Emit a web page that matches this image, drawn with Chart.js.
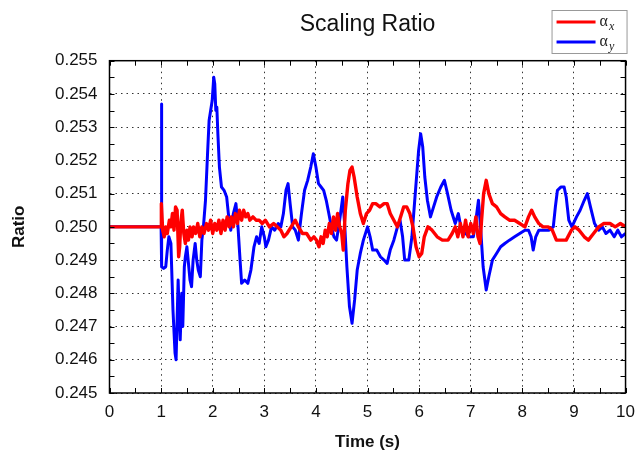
<!DOCTYPE html>
<html>
<head>
<meta charset="utf-8">
<title>Scaling Ratio</title>
<script src="https://cdn.jsdelivr.net/npm/chart.js@4.4.1/dist/chart.umd.min.js"></script>
<style>
  html, body { margin: 0; padding: 0; background: #fff; }
  #wrap { width: 644px; height: 460px; }
</style>
</head>
<body>
<div id="wrap"><canvas id="ratio-chart"></canvas></div>
<script>
// axis ticks
const xTicks = [0, 1, 2, 3, 4, 5, 6, 7, 8, 9, 10];
const yTicks = [0.245, 0.246, 0.247, 0.248, 0.249, 0.250, 0.251, 0.252, 0.253, 0.254, 0.255];

// legend: alpha with subscript
const legendSubs = ['x', 'y'];

// alpha_x (red)
const timeX = [
  0, 1.0, 1.005, 1.03, 1.06, 1.09, 1.12, 1.16, 1.19, 1.22, 1.25, 1.28, 1.31, 1.34, 1.36, 1.38,
  1.41, 1.44, 1.47, 1.50, 1.53, 1.56, 1.60, 1.63, 1.67, 1.71, 1.75, 1.79, 1.83, 1.88, 1.92, 1.96,
  2.00, 2.04, 2.08, 2.12, 2.16, 2.20, 2.24, 2.28, 2.32, 2.36, 2.40, 2.44, 2.48, 2.52, 2.56, 2.60,
  2.64, 2.68, 2.72, 2.78, 2.84, 2.90, 2.96, 3.02, 3.10, 3.18, 3.25, 3.32, 3.38, 3.44, 3.52, 3.60,
  3.66, 3.74, 3.82, 3.90, 3.96, 4.01, 4.06, 4.10, 4.14, 4.18, 4.22, 4.26, 4.30, 4.34, 4.38, 4.42,
  4.46, 4.50, 4.53, 4.57, 4.62, 4.66, 4.70, 4.74, 4.80, 4.86, 4.92, 4.98, 5.04, 5.10, 5.16, 5.24,
  5.32, 5.38, 5.44, 5.51, 5.58, 5.64, 5.70, 5.76, 5.82, 5.88, 5.94, 6.00, 6.05, 6.10, 6.17, 6.25,
  6.35, 6.45, 6.56, 6.64, 6.70, 6.75, 6.80, 6.85, 6.90, 6.95, 7.00, 7.05, 7.10, 7.14, 7.18, 7.21,
  7.25, 7.30, 7.35, 7.42, 7.50, 7.58, 7.66, 7.75, 7.85, 7.95, 8.05, 8.12, 8.18, 8.24, 8.32, 8.40,
  8.50, 8.58, 8.66, 8.75, 8.85, 8.95, 9.02, 9.10, 9.20, 9.28, 9.38, 9.48, 9.58, 9.70, 9.80, 9.90, 10.0
];
const alphaX = [
  0.2500, 0.2500, 0.2507, 0.2499, 0.2497, 0.2500, 0.2498, 0.2502, 0.2500, 0.2504, 0.2499, 0.2506, 0.2505, 0.2491, 0.2494, 0.2501,
  0.2505, 0.2498, 0.2495, 0.2499, 0.2496, 0.2500, 0.2497, 0.2500, 0.2498, 0.2501, 0.2497, 0.2500, 0.2498, 0.2501, 0.2499, 0.2502,
  0.2498, 0.2501, 0.2499, 0.2502, 0.2498, 0.2502, 0.2499, 0.2503, 0.2500, 0.2503, 0.2500, 0.2504, 0.2501, 0.2505, 0.2502, 0.2505,
  0.2503, 0.2504, 0.2502, 0.2503, 0.2502, 0.2502, 0.2501, 0.2502, 0.2500, 0.2501, 0.2500, 0.2499, 0.2497, 0.2498, 0.2500, 0.2502,
  0.2500, 0.2498, 0.2498, 0.2496, 0.2497, 0.2496, 0.2494, 0.2497, 0.2495, 0.2499, 0.2497, 0.2501, 0.2498, 0.2503, 0.2499, 0.2504,
  0.2500, 0.2498, 0.2493, 0.2505, 0.2513, 0.2517, 0.2518, 0.2515, 0.2509, 0.2504, 0.2501, 0.2504, 0.2505, 0.2507, 0.2507, 0.2506,
  0.2507, 0.2507, 0.2504, 0.2502, 0.2500, 0.2503, 0.2506, 0.2506, 0.2504, 0.2500, 0.2494, 0.2491, 0.2492, 0.2497, 0.2500, 0.2499,
  0.2497, 0.2496, 0.2496, 0.2498, 0.2500, 0.2497, 0.2501, 0.2497, 0.2502, 0.2497, 0.2501, 0.2498, 0.2503, 0.2497, 0.2495, 0.2502,
  0.2510, 0.2514, 0.2510, 0.2507, 0.2506, 0.2504, 0.2503, 0.2502, 0.2502, 0.2501, 0.2500, 0.2503, 0.2505, 0.2503, 0.2501, 0.2500,
  0.2500, 0.2499, 0.2496, 0.2496, 0.2496, 0.2499, 0.2500, 0.2499, 0.2497, 0.2496, 0.2498, 0.2500, 0.2501, 0.2501, 0.2500, 0.2501, 0.2500
];

// alpha_y (blue)
const timeY = [
  0, 1.0, 1.005, 1.015, 1.05, 1.09, 1.12, 1.15, 1.19, 1.23, 1.27, 1.29, 1.31, 1.33, 1.35, 1.37,
  1.40, 1.42, 1.45, 1.47, 1.50, 1.53, 1.56, 1.59, 1.62, 1.66, 1.69, 1.72, 1.76, 1.79, 1.82, 1.86,
  1.90, 1.93, 1.96, 1.99, 2.02, 2.04, 2.06, 2.08, 2.10, 2.13, 2.17, 2.22, 2.27, 2.31, 2.35, 2.40,
  2.45, 2.49, 2.53, 2.56, 2.62, 2.68, 2.74, 2.80, 2.85, 2.90, 2.95, 3.00, 3.03, 3.08, 3.14, 3.20,
  3.27, 3.32, 3.37, 3.42, 3.46, 3.50, 3.55, 3.60, 3.66, 3.72, 3.78, 3.84, 3.90, 3.95, 4.00, 4.05,
  4.10, 4.15, 4.20, 4.25, 4.30, 4.35, 4.40, 4.46, 4.52, 4.56, 4.60, 4.65, 4.70, 4.75, 4.80, 4.86,
  4.92, 5.00, 5.05, 5.10, 5.18, 5.25, 5.32, 5.38, 5.44, 5.51, 5.58, 5.63, 5.68, 5.72, 5.80, 5.86,
  5.91, 5.95, 5.99, 6.03, 6.07, 6.11, 6.16, 6.22, 6.28, 6.34, 6.42, 6.49, 6.55, 6.62, 6.70, 6.76,
  6.82, 6.90, 6.97, 7.05, 7.10, 7.15, 7.19, 7.24, 7.30, 7.35, 7.42, 7.50, 7.58, 7.66, 7.75, 7.85,
  7.95, 8.05, 8.12, 8.17, 8.21, 8.26, 8.32, 8.42, 8.52, 8.60, 8.64, 8.68, 8.75, 8.81, 8.85, 8.90,
  8.96, 9.05, 9.12, 9.20, 9.26, 9.32, 9.40, 9.48, 9.55, 9.62, 9.70, 9.78, 9.85, 9.92, 10.0
];
const alphaY = [
  0.2500, 0.2500, 0.2537, 0.2488, 0.24875, 0.2488, 0.2493, 0.2497, 0.2495, 0.2475, 0.2462, 0.2460, 0.2472, 0.2484, 0.2474, 0.2466,
  0.2480, 0.2470, 0.2488, 0.2491, 0.2494, 0.2489, 0.2484, 0.2482, 0.2490, 0.2495, 0.2490, 0.2487, 0.2485, 0.2496, 0.2500, 0.2508,
  0.2522, 0.2532, 0.2535, 0.2538, 0.2545, 0.2543, 0.2535, 0.2536, 0.2528, 0.2518, 0.2512, 0.2511, 0.2509, 0.2503, 0.2499, 0.2504,
  0.2507, 0.2500, 0.2490, 0.2483, 0.2484, 0.2483, 0.2487, 0.2494, 0.2497, 0.2495, 0.2500, 0.2497, 0.2494, 0.2496, 0.2500, 0.2499,
  0.2501, 0.2500, 0.2504, 0.2511, 0.2513, 0.2507, 0.2500, 0.2499, 0.2496, 0.2504, 0.2511, 0.2514, 0.2518, 0.2522, 0.2518, 0.2513,
  0.2512, 0.2511, 0.2508, 0.2504, 0.2500, 0.2497, 0.2496, 0.2502, 0.2509, 0.2500, 0.2488, 0.2476, 0.2471, 0.2478, 0.2487, 0.2492,
  0.2496, 0.2500, 0.2497, 0.2493, 0.2493, 0.2491, 0.2490, 0.2489, 0.2493, 0.2496, 0.2500, 0.2502, 0.2497, 0.2490, 0.2490, 0.2497,
  0.2507, 0.2515, 0.2523, 0.2528, 0.2524, 0.2515, 0.2508, 0.2503, 0.2506, 0.2509, 0.2512, 0.2514, 0.2510, 0.2505, 0.2501, 0.2504,
  0.2499, 0.2498, 0.2497, 0.2497, 0.2502, 0.2508, 0.2500, 0.2488, 0.2481, 0.2485, 0.2490, 0.2492, 0.2494, 0.2495, 0.2496, 0.2497,
  0.2498, 0.2499, 0.2499, 0.2497, 0.2493, 0.2497, 0.2499, 0.2499, 0.2499, 0.2500, 0.2506, 0.2511, 0.2512, 0.2512, 0.2509, 0.2502,
  0.2500, 0.2503, 0.2505, 0.2508, 0.2510, 0.2506, 0.2501, 0.2499, 0.2500, 0.2498, 0.2499, 0.2497, 0.2499, 0.2497, 0.2498
];

const FONT = 'Liberation Sans, Arial, Helvetica, sans-serif';

// frame around the plot plus inward major/minor tick marks on all four sides
const frameTicks = {
  id: 'frameTicks',
  afterDraw(chart) {
    const { ctx, chartArea: a, scales: { x, y } } = chart;
    const len = 5;
    const withMinor = (vals) => {
      const out = [];
      vals.forEach((v, i) => {
        out.push(v);
        if (i < vals.length - 1) out.push((v + vals[i + 1]) / 2);
      });
      return out;
    };
    ctx.save();
    ctx.strokeStyle = '#000';
    ctx.lineWidth = 1;
    ctx.beginPath();
    withMinor(xTicks).forEach(v => {
      const px = Math.round(x.getPixelForValue(v)) + 0.5;
      ctx.moveTo(px, a.bottom); ctx.lineTo(px, a.bottom - len);
      ctx.moveTo(px, a.top); ctx.lineTo(px, a.top + len);
    });
    withMinor(yTicks).forEach(v => {
      const py = Math.round(y.getPixelForValue(v)) + 0.5;
      ctx.moveTo(a.left, py); ctx.lineTo(a.left + len, py);
      ctx.moveTo(a.right, py); ctx.lineTo(a.right - len, py);
    });
    ctx.stroke();
    ctx.lineWidth = 1.5;
    ctx.strokeRect(a.left, a.top, a.right - a.left, a.bottom - a.top);
    ctx.restore();
  }
};

// boxed legend with alpha and italic subscript
const alphaLegend = {
  id: 'alphaLegend',
  afterDraw(chart) {
    const ctx = chart.ctx;
    const right = chart.chartArea.right + 1;
    const bx = right - 75, by = 10, bw = 75, bh = 43;
    ctx.save();
    ctx.fillStyle = '#fff';
    ctx.fillRect(bx, by, bw, bh);
    ctx.strokeStyle = '#999';
    ctx.lineWidth = 1;
    ctx.strokeRect(bx + 0.5, by + 0.5, bw, bh);
    chart.data.datasets.forEach((ds, i) => {
      const ly = by + 12 + i * 20;
      ctx.strokeStyle = ds.borderColor;
      ctx.lineWidth = 3;
      ctx.beginPath();
      ctx.moveTo(bx + 5, ly);
      ctx.lineTo(bx + 44, ly);
      ctx.stroke();
      ctx.fillStyle = '#222';
      ctx.textBaseline = 'alphabetic';
      ctx.font = '16px "Liberation Serif", "Times New Roman", serif';
      ctx.fillText('α', bx + 48, ly + 4);
      const w = ctx.measureText('α').width;
      ctx.font = 'italic 12px "Liberation Serif", "Times New Roman", serif';
      ctx.fillText(legendSubs[i], bx + 49 + w, ly + 8);
    });
    ctx.restore();
  }
};

const ctx = document.getElementById('ratio-chart').getContext('2d');
const chart = new Chart(ctx, {
  type: 'line',
  data: {
    datasets: [
      {
        label: 'αx',
        data: timeX.map((t, i) => ({ x: t, y: alphaX[i] })),
        borderColor: 'rgb(255, 0, 0)',
        borderWidth: 3.4,
        borderJoinStyle: 'round',
        pointRadius: 0,
        tension: 0,
        order: 0,
      },
      {
        label: 'αy',
        data: timeY.map((t, i) => ({ x: t, y: alphaY[i] })),
        borderColor: 'rgb(0, 0, 255)',
        borderWidth: 3,
        borderJoinStyle: 'round',
        pointRadius: 0,
        tension: 0,
        order: 1,
      },
    ],
  },
  options: {
    responsive: true,
    maintainAspectRatio: false,
    animation: false,
    layout: { padding: { left: 9.5, right: 9, top: 0, bottom: 0 } },
    scales: {
      x: {
        type: 'linear',
        min: 0,
        max: 10,
        afterBuildTicks: (scale) => { scale.ticks = xTicks.map(v => ({ value: v })); },
        afterFit: (scale) => { scale.height = 67; },
        ticks: {
          padding: 9,
          color: '#111',
          font: { family: FONT, size: 17 },
          maxRotation: 0,
          callback: (v) => String(v),
        },
        grid: { drawTicks: false, color: 'rgba(0,0,0,0.8)', lineWidth: 1 },
        border: { display: false, dash: [1.5, 4] },
        title: {
          display: true,
          text: 'Time (s)',
          color: '#111',
          font: { family: FONT, size: 17, weight: 'bold' },
          padding: { top: 0, bottom: 7 },
        },
      },
      y: {
        min: 0.245,
        max: 0.255,
        afterBuildTicks: (scale) => { scale.ticks = yTicks.map(v => ({ value: v })); },
        afterFit: (scale) => { scale.width = 100; },
        ticks: {
          padding: 12,
          color: '#111',
          font: { family: FONT, size: 17 },
          callback: (v) => Number(v).toFixed(3),
        },
        grid: { drawTicks: false, color: 'rgba(0,0,0,0.8)', lineWidth: 1 },
        border: { display: false, dash: [1.5, 4] },
        title: {
          display: true,
          text: 'Ratio',
          color: '#111',
          font: { family: FONT, size: 17, weight: 'bold' },
          padding: { top: 0, bottom: 0 },
        },
      },
    },
    plugins: {
      legend: { display: false },
      tooltip: { enabled: false },
      title: {
        display: true,
        text: 'Scaling Ratio',
        fullSize: false,
        color: '#111',
        font: { family: FONT, size: 23, weight: 'normal' },
        padding: { top: 11.2, bottom: 21.9 },
      },
    },
  },
  plugins: [frameTicks, alphaLegend],
});
</script>
</body>
</html>
